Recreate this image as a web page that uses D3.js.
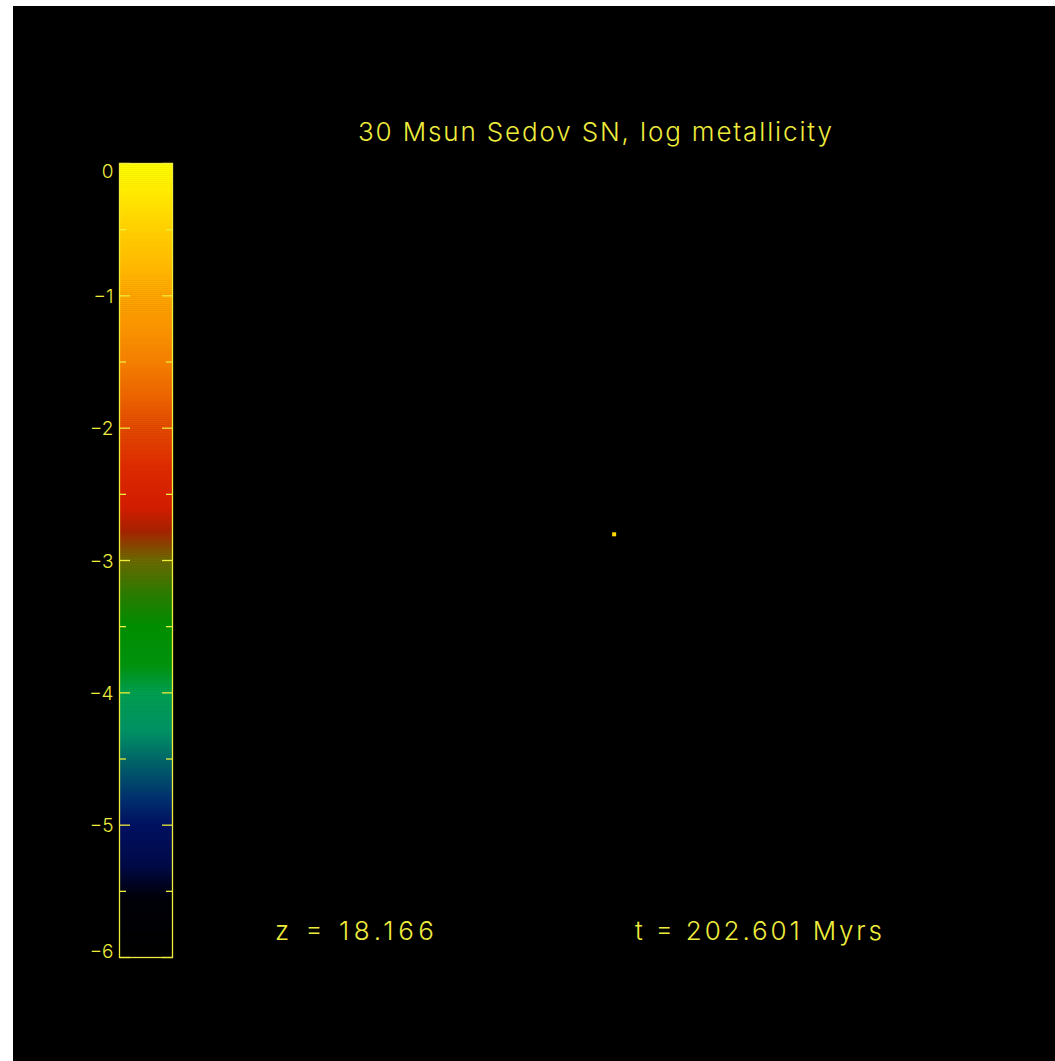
<!DOCTYPE html>
<html>
<head>
<meta charset="utf-8">
<script src="https://cdn.jsdelivr.net/npm/d3@7"></script>
<style>
  html, body { margin: 0; padding: 0; background: #ffffff; }
  svg { display: block; }
  text { font-family: Inter, "DejaVu Sans", "Liberation Sans", sans-serif; }
</style>
</head>
<body>
<svg id="chart" width="1055" height="1061"></svg>
<script>
// Colour table for log metallicity (value -> colour)
const colorStops = [0, -0.5, -1, -1.5, -2, -2.3, -2.6, -2.78, -3, -3.25, -3.5, -3.8, -4, -4.3, -4.55, -4.8, -5, -5.3, -5.55, -6];
const colorValues = ["#ffff00", "#ffcf00", "#ffa600", "#f37f00", "#e44a00", "#dc2a00", "#d21c00", "#a52200", "#6c6a00",
                     "#2c7a00", "#008d00", "#00920e", "#00a050", "#008f64", "#005e68", "#00306e", "#001062", "#000a48", "#000008", "#000000"];

// Colour bar axis
const majorTicks = [0, -1, -2, -3, -4, -5, -6];
const minorTicks = [-0.5, -1.5, -2.5, -3.5, -4.5, -5.5];
const tickLabels = ["0", "\u22121", "\u22122", "\u22123", "\u22124", "\u22125", "\u22126"];

// Gas particles shown in the slice (box coordinates, log metallicity)
const particleX = [0.499];
const particleY = [0.495];
const particleLogZ = [-0.4];

const titleText = "30 Msun Sedov SN, log metallicity";
const redshiftText = "z = 18.166";
const timeText = "t = 202.601 Myrs";

const ink = "#eeec3c";

const svg = d3.select("#chart");

// black plotting window
svg.append("rect").attr("x", 13).attr("y", 6).attr("width", 1042).attr("height", 1055).attr("fill", "#000");

const color = d3.scaleLinear().domain(colorStops).range(colorValues).clamp(true);

// colour bar
const barX = 119.5, barW = 53;
const yBar = d3.scaleLinear().domain([0, -6]).range([163.5, 957.5]);

const nSteps = 400;
const steps = d3.range(nSteps).map(i => 0 - (i + 0.5) * 6 / nSteps);
const stepH = (yBar(-6) - yBar(0)) / nSteps;
svg.append("g").selectAll("rect").data(steps).join("rect")
  .attr("x", barX).attr("width", barW)
  .attr("y", d => yBar(d) - stepH / 2 - 0.3)
  .attr("height", stepH + 0.6)
  .attr("fill", d => color(d));

svg.append("rect").attr("x", barX).attr("y", yBar(0)).attr("width", barW).attr("height", yBar(-6) - yBar(0))
  .attr("fill", "none").attr("stroke", ink).attr("stroke-width", 1.3);

// ticks on both sides
const tickG = svg.append("g").attr("stroke", ink).attr("stroke-width", 1.3);
[[majorTicks, 10.5], [minorTicks, 6.5]].forEach(([ticks, len]) => {
  ticks.forEach(t => {
    const y = yBar(t);
    tickG.append("line").attr("x1", barX).attr("x2", barX + len).attr("y1", y).attr("y2", y);
    tickG.append("line").attr("x1", barX + barW - len).attr("x2", barX + barW).attr("y1", y).attr("y2", y);
  });
});

// tick labels, end labels kept inside the bar's extent
svg.append("g").selectAll("text").data(majorTicks).join("text")
  .attr("x", barX - 6)
  .attr("y", d => {
    let y = yBar(d) + 7;
    if (d === 0) y = yBar(d) + 14;
    if (d === -6) y = yBar(d);
    return y;
  })
  .attr("text-anchor", "end")
  .attr("font-size", 19)
  .attr("font-weight", 300)
  .attr("fill", ink)
  .text((d, i) => tickLabels[i]);

// slice panel
const xBox = d3.scaleLinear().domain([0, 1]).range([185, 1045]);
const yBox = d3.scaleLinear().domain([0, 1]).range([960, 100]);
svg.append("g").selectAll("rect").data(particleX).join("rect")
  .attr("x", d => xBox(d) - 2)
  .attr("y", (d, i) => yBox(particleY[i]) - 2)
  .attr("width", 4).attr("height", 4)
  .attr("fill", (d, i) => color(particleLogZ[i]));

// annotations
svg.append("text").attr("x", 358).attr("y", 141)
  .attr("font-size", 26).attr("font-weight", 300).attr("fill", ink)
  .attr("textLength", 474).attr("lengthAdjust", "spacing")
  .text(titleText);

svg.append("text").attr("x", 275).attr("y", 940)
  .attr("font-size", 26).attr("font-weight", 300).attr("fill", ink)
  .attr("textLength", 159).attr("lengthAdjust", "spacing")
  .text(redshiftText);

svg.append("text").attr("x", 635).attr("y", 940)
  .attr("font-size", 26).attr("font-weight", 300).attr("fill", ink)
  .attr("textLength", 247).attr("lengthAdjust", "spacing")
  .text(timeText);
</script>
</body>
</html>
